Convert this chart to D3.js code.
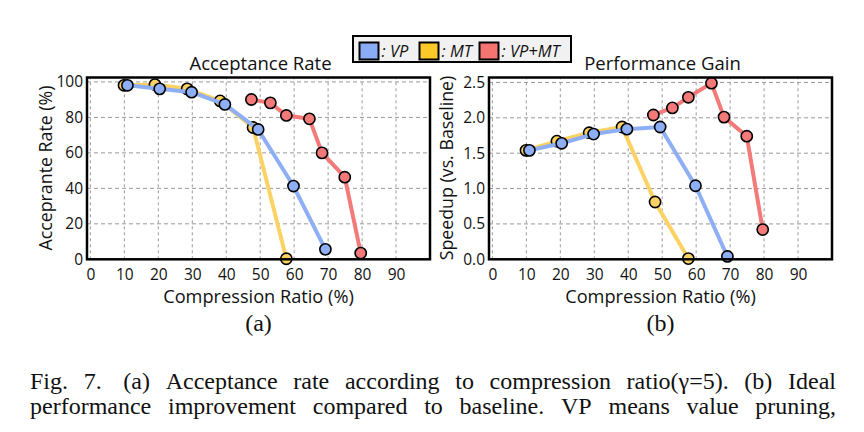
<html>
<head>
<meta charset="utf-8">
<script src="https://cdn.jsdelivr.net/npm/d3@7"></script>
<style>
  body { margin:0; background:#fff; }
  text { font-family:"Open Sans", sans-serif; fill:#111; }
  .serif { font-family:"Liberation Serif","Times New Roman",serif; }
</style>
</head>
<body>
<script>
// compression ratio (%) per series
var vpX   = [10.9, 20.4, 29.8, 39.6, 49.4, 59.8, 69.2];
var mtX   = [9.9, 19.0, 28.5, 38.2, 47.9, 57.7];
var vpmtX = [47.4, 53.0, 57.7, 64.5, 68.2, 74.9, 79.6];

// (a) acceptance rate (%)
var vpAcc   = [98.1, 96.1, 94.2, 87.3, 73.2, 41.3, 5.6];
var mtAcc   = [98.1, 98.5, 96.1, 89.3, 74.3, 0.3];
var vpmtAcc = [90.1, 88.2, 81.1, 79.2, 60.0, 46.3, 3.5];

// (b) speedup vs baseline
var vpSpd   = [1.54, 1.64, 1.77, 1.84, 1.87, 1.04, 0.04];
var mtSpd   = [1.54, 1.67, 1.79, 1.87, 0.81, 0.01];
var vpmtSpd = [2.04, 2.14, 2.29, 2.49, 2.01, 1.74, 0.42];

var xTicks = [0,10,20,30,40,50,60,70,80,90];
var accTicks = [0,20,40,60,80,100];
var spdTicks = [0,0.5,1.0,1.5,2.0,2.5];

var seriesNames = ["VP","MT","VP+MT"];
var lineCol   = {"VP":"#8eaef5","MT":"#fbd263","VP+MT":"#f37a78"};
var legendCol = {"VP":"#8aacf7","MT":"#fdc928","VP+MT":"#f47472"};

var W=864, H=432;
var svg=d3.select('body').append('svg').attr('width',W).attr('height',H);

function drawPanel(opt)
{
  var x=d3.scaleLinear().domain([-1,100]).range([opt.left,opt.right]);
  var y=d3.scaleLinear().domain(opt.yDomain).range([259.3,77.5]);
  var g=svg.append('g');

  // grid
  g.selectAll('.vg').data(xTicks).enter().append('line')
    .attr('x1',function(d){return x(d);}).attr('x2',function(d){return x(d);})
    .attr('y1',y.range()[0]).attr('y2',y.range()[1])
    .attr('stroke','#999').attr('stroke-width',1).attr('stroke-dasharray','3,3');
  g.selectAll('.hg').data(opt.yTicks).enter().append('line')
    .attr('x1',opt.left).attr('x2',opt.right)
    .attr('y1',function(d){return y(d);}).attr('y2',function(d){return y(d);})
    .attr('stroke','#999').attr('stroke-width',1).attr('stroke-dasharray','4,3');

  // axes (labels only)
  var xa=g.append('g').attr('transform','translate(0,259.3)')
    .call(d3.axisBottom(x).tickValues(xTicks).tickSize(0).tickPadding(10));
  var ya=g.append('g').attr('transform','translate('+opt.left+',0)')
    .call(d3.axisLeft(y).tickValues(opt.yTicks).tickSize(0).tickPadding(4).tickFormat(opt.fmt));
  [xa,ya].forEach(function(a){
    a.select('.domain').remove();
    a.selectAll('text').style('font-family','"Open Sans", sans-serif').style('font-size','15.5px').attr('fill','#111');
  });

  // series
  var data=[
    {name:"MT", xs:mtX, ys:opt.mt},
    {name:"VP", xs:vpX, ys:opt.vp},
    {name:"VP+MT", xs:vpmtX, ys:opt.vpmt}
  ];
  var line=d3.line().x(function(d){return x(d[0]);}).y(function(d){return y(d[1]);});
  data.forEach(function(s){
    var pts=s.xs.map(function(v,i){return [v,s.ys[i]];});
    g.append('path').datum(pts).attr('d',line).attr('fill','none')
      .attr('stroke',lineCol[s.name]).attr('stroke-width',4).attr('stroke-linejoin','round');
    g.selectAll(null).data(pts).enter().append('circle')
      .attr('cx',function(d){return x(d[0]);}).attr('cy',function(d){return y(d[1]);})
      .attr('r',5.6).attr('fill',lineCol[s.name]).attr('stroke','#000').attr('stroke-width',1.6);
  });

  // frame
  g.append('rect').attr('x',opt.left).attr('y',77.5)
    .attr('width',opt.right-opt.left).attr('height',259.3-77.5)
    .attr('fill','none').attr('stroke','#000').attr('stroke-width',2.5);

  var cx=(opt.left+opt.right)/2;
  g.append('text').attr('x',cx+2).attr('y',69.5).attr('text-anchor','middle')
    .style('font-size','18.5px').text(opt.title);
  g.append('text').attr('x',cx).attr('y',303).attr('text-anchor','middle')
    .style('font-size','18.2px').text('Compression Ratio (%)');
  g.append('text').attr('transform','translate('+opt.ylx+',168) rotate(-90)')
    .attr('text-anchor','middle').style('font-size','17.8px').text(opt.ylabel);
  g.append('text').attr('class','serif').attr('x',cx).attr('y',331)
    .attr('text-anchor','middle').style('font-size','24px').text(opt.sub);
}

drawPanel({left:87, right:430, yDomain:[0,102.5], yTicks:accTicks,
  fmt:d3.format('d'), vp:vpAcc, mt:mtAcc, vpmt:vpmtAcc,
  title:'Acceptance Rate', ylabel:'Acceprante Rate (%)', ylx:52, sub:'(a)'});
drawPanel({left:489, right:832, yDomain:[0,2.57], yTicks:spdTicks,
  fmt:d3.format('.1f'), vp:vpSpd, mt:mtSpd, vpmt:vpmtSpd,
  title:'Performance Gain', ylabel:'Speedup (vs. Baseline)', ylx:453, sub:'(b)'});

// legend
var lg=svg.append('g');
lg.append('rect').attr('x',353).attr('y',36).attr('width',218).attr('height',26)
  .attr('fill','#f1f1f1').attr('stroke','#000').attr('stroke-width',2);
var legX=[359.5,419.5,479.5];
seriesNames.forEach(function(n,i){
  lg.append('rect').attr('x',legX[i]).attr('y',42.5).attr('width',19).attr('height',17)
    .attr('fill',legendCol[n]).attr('stroke','#000').attr('stroke-width',2);
  lg.append('text').attr('x',legX[i]+22).attr('y',56.5).style('font-size','16.5px')
    .style('font-style','italic').text(': '+n);
});

// caption, justified
var captionLines=[
  "Fig. 7.\u00a0 (a) Acceptance rate according to compression ratio(\u03b3=5). (b) Ideal",
  "performance improvement compared to baseline. VP means value pruning,"
];
var capY=[389,414];
captionLines.forEach(function(l,li){
  var words=l.split(' ');
  var t=svg.append('g');
  var nodes=words.map(function(w){
    return t.append('text').attr('class','serif').attr('y',capY[li]).style('font-size','24px').text(w);
  });
  var widths=nodes.map(function(n){return n.node().getComputedTextLength();});
  var total=d3.sum(widths);
  var gap=(836-30-total)/(words.length-1);
  var xx=30;
  nodes.forEach(function(n,i){ n.attr('x',xx); xx+=widths[i]+gap; });
});
</script>
</body>
</html>
